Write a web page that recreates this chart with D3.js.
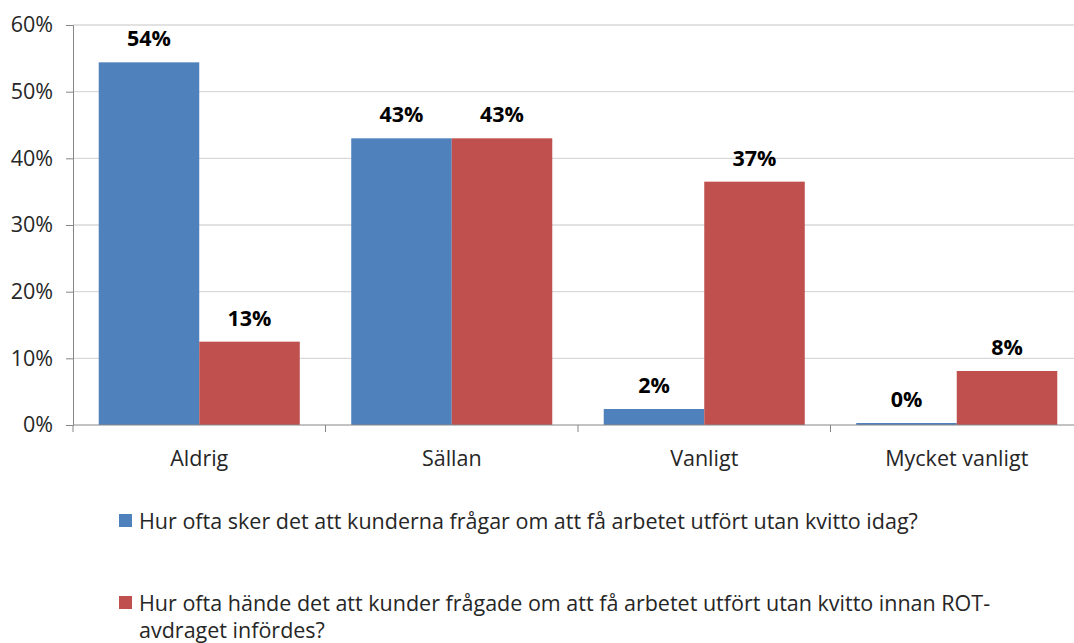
<!DOCTYPE html>
<html>
<head>
<meta charset="utf-8">
<script src="https://cdn.jsdelivr.net/npm/d3@7"></script>
<style>
  html, body { margin: 0; padding: 0; background: #fff; }
  svg { display: block; font-family: "Open Sans", sans-serif; }
</style>
</head>
<body>
<svg id="chart" width="1074" height="643"></svg>
<script>
const categories = ['Aldrig', 'Sällan', 'Vanligt', 'Mycket vanligt']
const seriesNames = [
  'Hur ofta sker det att kunderna frågar om att få arbetet utfört utan kvitto idag?',
  'Hur ofta hände det att kunder frågade om att få arbetet utfört utan kvitto innan ROT-avdraget infördes?'
]
const todayValues = [54.4, 43.0, 2.4, 0.3]
const beforeRotValues = [12.5, 43.0, 36.5, 8.1]
const yTicks = [0, 10, 20, 30, 40, 50, 60]
const colors = ['#4F81BD', '#C0504D']

const svg = d3.select('#chart')
const plotLeft = 73
const plotRight = 1083
const plotTop = 25
const plotBottom = 425
const fontSize = 21.5

const x = d3.scaleBand().domain(categories).range([plotLeft, plotRight]).padding(0)
const sub = d3.scaleBand().domain([0, 1]).range([0, x.bandwidth()]).paddingInner(0).paddingOuter(0.256)
const y = d3.scaleLinear().domain([0, 60]).range([plotBottom, plotTop])

// gridlines
svg.append('g')
  .selectAll('line')
  .data(yTicks.filter(d => d > 0))
  .enter().append('line')
  .attr('x1', plotLeft).attr('x2', plotRight)
  .attr('y1', d => y(d)).attr('y2', d => y(d))
  .attr('stroke', '#d9d9d9').attr('stroke-width', 1.3)

// y axis
const yAxis = svg.append('g')
  .attr('transform', 'translate(' + plotLeft + ',0)')
  .call(d3.axisLeft(y).tickValues(yTicks).tickSize(7).tickPadding(13).tickFormat(d => d + '%'))
yAxis.select('.domain').attr('stroke', '#868686')
yAxis.selectAll('.tick line').attr('stroke', '#868686')
yAxis.selectAll('text').attr('font-size', fontSize).attr('fill', '#262626')
  .attr('font-family', '"Open Sans", sans-serif')

// bars
const data = categories.map((c, i) => ({ cat: c, vals: [todayValues[i], beforeRotValues[i]] }))
const groups = svg.append('g').selectAll('g')
  .data(data)
  .enter().append('g')
  .attr('transform', d => 'translate(' + x(d.cat) + ',0)')

groups.selectAll('rect')
  .data(d => d.vals.map((v, s) => ({ v: v, s: s })))
  .enter().append('rect')
  .attr('x', d => sub(d.s))
  .attr('width', sub.bandwidth())
  .attr('y', d => y(d.v))
  .attr('height', d => plotBottom - y(d.v))
  .attr('fill', d => colors[d.s])

groups.selectAll('text')
  .data(d => d.vals.map((v, s) => ({ v: v, s: s })))
  .enter().append('text')
  .attr('x', d => sub(d.s) + sub.bandwidth() / 2)
  .attr('y', d => y(d.v) - 16)
  .attr('text-anchor', 'middle')
  .attr('font-size', fontSize)
  .attr('font-weight', 'bold')
  .attr('fill', '#000')
  .text(d => Math.round(d.v) + '%')

// x axis
const xAxis = svg.append('g')
  .attr('transform', 'translate(0,' + plotBottom + ')')
  .call(d3.axisBottom(x).tickSize(0).tickPadding(26))
xAxis.select('.domain').attr('stroke', '#868686').attr('d', 'M' + plotLeft + ',0H' + plotRight)
xAxis.selectAll('text').attr('font-size', fontSize).attr('fill', '#262626')
  .attr('font-family', '"Open Sans", sans-serif')
svg.append('g').selectAll('line')
  .data(categories.concat(['end']))
  .enter().append('line')
  .attr('x1', (d, i) => plotLeft + i * x.step()).attr('x2', (d, i) => plotLeft + i * x.step())
  .attr('y1', plotBottom).attr('y2', plotBottom + 7)
  .attr('stroke', '#868686')

// legend
const legendRows = [
  { lines: [seriesNames[0]], y: 529 },
  { lines: ['Hur ofta hände det att kunder frågade om att få arbetet utfört utan kvitto innan ROT-', 'avdraget infördes?'], y: 611 }
]
const legend = svg.append('g')
legendRows.forEach((row, i) => {
  legend.append('rect')
    .attr('x', 119).attr('y', row.y - 15)
    .attr('width', 13).attr('height', 13)
    .attr('fill', colors[i])
  const t = legend.append('text')
    .attr('x', 139).attr('y', row.y)
    .attr('font-size', fontSize).attr('fill', '#262626')
  row.lines.forEach((line, j) => {
    t.append('tspan').attr('x', 139).attr('dy', j === 0 ? 0 : 27).text(line)
  })
})
</script>
</body>
</html>
